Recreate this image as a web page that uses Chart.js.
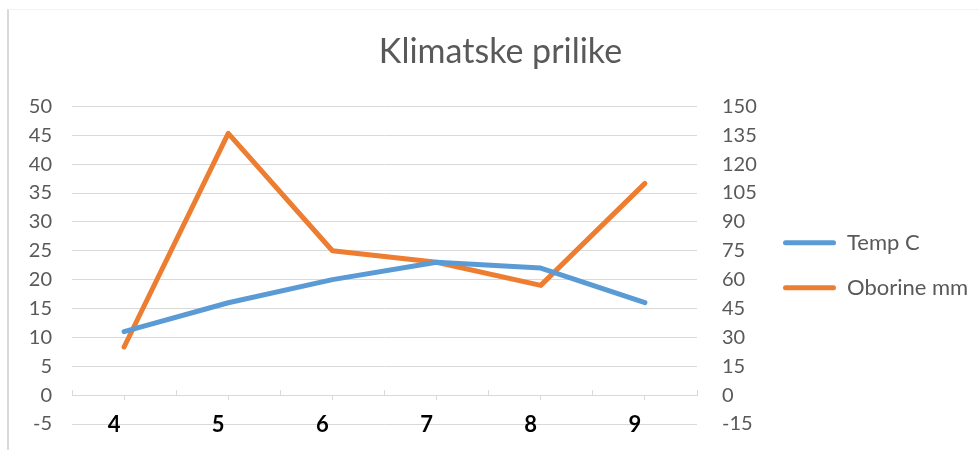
<!DOCTYPE html>
<html>
<head>
<meta charset="utf-8">
<script src="https://cdn.jsdelivr.net/npm/chart.js@4"></script>
<style>
  html, body { margin: 0; padding: 0; background: #ffffff; }
  #wrap { position: relative; width: 979px; height: 450px; overflow: hidden; }
  #frame { position: absolute; left: 7px; top: 9px; width: 2000px; height: 1000px;
           border-left: 2px solid #d9d9d9; border-top: 1px solid #f2f2f2; }
  canvas { position: absolute; left: 0; top: 0; }
</style>
</head>
<body>
<div id="wrap">
  <div id="frame"></div>
  <canvas id="c" width="979" height="450"></canvas>
</div>
<script>
const categories = ['4', '5', '6', '7', '8', '9'];
const tempC = [11, 16, 20, 23, 22, 16];
const oborineMm = [25, 136, 75, 69, 57, 110];
const leftTicks = { min: -5, max: 50, step: 5 };
const rightTicks = { min: -15, max: 150, step: 15 };

const FONT = 'Lato, "Open Sans", sans-serif';
const GRAY = '#595959';
const GRID = '#d9d9d9';
const LEGEND_W = 219;
let yAxisW = 50;

const chart = new Chart(document.getElementById('c'), {
  type: 'line',
  data: {
    labels: categories,
    datasets: [
      { label: 'Temp C', data: tempC, yAxisID: 'y', xAxisID: 'x',
        borderColor: '#5b9bd5', backgroundColor: '#5b9bd5', borderWidth: 5,
        pointRadius: 0, tension: 0, borderCapStyle: 'round', borderJoinStyle: 'round' },
      { label: 'Oborine mm', data: oborineMm, yAxisID: 'y1', xAxisID: 'x',
        borderColor: '#ed7d31', backgroundColor: '#ed7d31', borderWidth: 5,
        pointRadius: 0, tension: 0, borderCapStyle: 'round', borderJoinStyle: 'round' }
    ]
  },
  options: {
    responsive: false,
    animation: false,
    layout: { padding: { left: 22, right: 0, top: 0, bottom: 26 } },
    plugins: {
      tooltip: { enabled: false },
      title: {
        display: true, text: 'Klimatske prilike', color: GRAY,
        font: { family: FONT, size: 34, weight: 'normal' },
        padding: { top: 32, bottom: 33.6 }
      },
      legend: {
        display: true, position: 'right', align: 'center', fullSize: false, maxWidth: LEGEND_W,
        labels: {
          color: GRAY, font: { family: FONT, size: 22 },
          boxWidth: 53, boxHeight: 5, padding: 23,
          generateLabels(ch) {
            const items = Chart.defaults.plugins.legend.labels.generateLabels(ch);
            items.forEach(it => { it.lineWidth = 0; it.fillStyle = it.strokeStyle; it.borderRadius = 2.5; });
            return items;
          }
        }
      }
    },
    scales: {
      x: {
        type: 'category', offset: true, position: { y: 0 },
        border: { display: true, color: GRID, width: 1 },
        grid: { display: true, drawOnChartArea: false, offset: true, color: GRID, tickLength: -6 },
        ticks: { display: false }
      },
      x2: {
        type: 'category', offset: true, position: { y: 0 },
        border: { display: false },
        grid: { display: true, drawOnChartArea: false, offset: false, color: GRID, tickLength: 5 },
        ticks: { display: false }
      },
      xLab: {
        type: 'category', offset: true, position: { y: leftTicks.min },
        border: { display: false },
        grid: { display: false, drawTicks: false },
        ticks: { color: '#000000', font: { family: FONT, size: 22, weight: 'bold' },
                 padding: -12, labelOffset: -10, maxRotation: 0, autoSkip: false }
      },
      y: {
        type: 'linear', position: 'left',
        min: leftTicks.min, max: leftTicks.max,
        border: { display: false },
        grid: { color: GRID, drawTicks: false, lineWidth: 1 },
        ticks: { stepSize: leftTicks.step, color: GRAY, font: { family: FONT, size: 20 }, padding: 20 },
        afterFit(s) { s.width = yAxisW; s.paddingTop = 0; s.paddingBottom = 0; }
      },
      y1: {
        type: 'linear', position: 'right',
        min: rightTicks.min, max: rightTicks.max,
        border: { display: false },
        grid: { drawOnChartArea: false, drawTicks: false },
        ticks: { stepSize: rightTicks.step, color: GRAY, font: { family: FONT, size: 20 }, padding: 25 },
        afterFit(s) { s.width = 979 - 697 - LEGEND_W; s.paddingTop = 0; s.paddingBottom = 0; }
      }
    }
  }
});

if (chart.legend && chart.legend.width < LEGEND_W) {
  const d = LEGEND_W - chart.legend.width;
  chart.options.layout.padding.right = d;
  chart.options.layout.padding.left = 22 + d;
  yAxisW = 50 - d;
  chart.update();
}
</script>
</body>
</html>
